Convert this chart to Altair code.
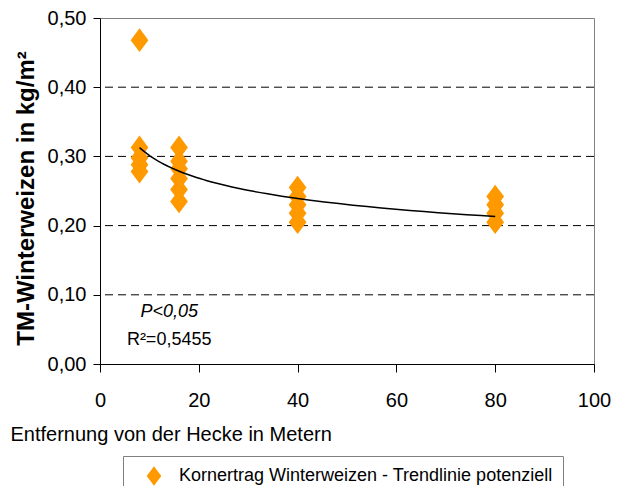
import altair as alt
import pandas as pd

# ---- data ----
dist = [8, 8, 8, 8, 8,
        16, 16, 16, 16, 16, 16,
        40, 40, 40, 40, 40,
        80, 80, 80, 80]
ertrag = [0.468, 0.313, 0.298, 0.288, 0.278,
          0.313, 0.293, 0.282, 0.268, 0.252, 0.235,
          0.255, 0.242, 0.230, 0.218, 0.205,
          0.242, 0.230, 0.218, 0.205]
series_name = "Kornertrag Winterweizen - Trendlinie potenziell"
x_ticks = [0, 20, 40, 60, 80, 100]
y_ticks = [0.0, 0.1, 0.2, 0.3, 0.4, 0.5]
grid_values = [0.1, 0.2, 0.3, 0.4]
annot_text = ["P<0,05", "R²=0,5455"]
annot_x = [14, 14]
annot_y = [0.075, 0.034]

ORANGE = "#FF9900"
DIAMOND = "M0,-1L0.75,0L0,1L-0.75,0Z"
FONT = "Liberation Sans"

df = pd.DataFrame({"dist": dist, "ertrag": ertrag, "series": [series_name] * len(dist)})
grid_df = pd.DataFrame({"g": grid_values})
ann_df = pd.DataFrame({"t": annot_text, "x": annot_x, "y": annot_y, "i": [0, 1]})

xscale = alt.Scale(domain=[0, 100], nice=False, zero=False)
yscale = alt.Scale(domain=[0, 0.5], nice=False)

x_axis = alt.Axis(values=x_ticks, format="d", tickSize=8, tickColor="black",
                  domainColor="black", labelFontSize=20, labelColor="black",
                  labelPadding=18, labelFlush=False, grid=False,
                  title="Entfernung von der Hecke in Metern", titleFontSize=20,
                  titleFontWeight="normal", titleColor="black",
                  titleAnchor="start", titleAlign="left", titleX=-90, titleY=76,
                  titleBaseline="alphabetic")
y_axis = alt.Axis(values=y_ticks, labelExpr="replace(format(datum.value, '.2f'), '.', ',')",
                  tickSize=7, tickColor="black", domainColor="black",
                  labelFontSize=20, labelColor="black", labelPadding=7, grid=False,
                  labelFlush=False,
                  title="TM-Winterweizen in kg/m²", titleFontSize=24,
                  titleFontWeight="bold", titleColor="black",
                  titleX=-62, titleY=180)

grid = alt.Chart(grid_df).mark_rule(color="black", strokeDash=[8, 5], strokeWidth=1).encode(
    y=alt.Y("g:Q", scale=yscale, axis=y_axis)
)

pts = alt.Chart(df).mark_point(filled=True, opacity=1, size=560, shape=DIAMOND,
                               strokeWidth=0).encode(
    x=alt.X("dist:Q", scale=xscale, axis=x_axis),
    y=alt.Y("ertrag:Q", scale=yscale, axis=y_axis),
    color=alt.Color("series:N", scale=alt.Scale(range=[ORANGE]),
                    legend=alt.Legend(title=None, orient="none", legendX=23, legendY=438,
                                      padding=10, strokeColor="#808080",
                                      symbolType=DIAMOND, symbolSize=380,
                                      symbolOffset=11, symbolStrokeWidth=0,
                                      symbolOpacity=1, labelFontSize=18,
                                      labelColor="black", labelOffset=15,
                                      labelLimit=600)),
)

trend = alt.Chart(df).transform_regression("dist", "ertrag", method="pow").mark_line(
    color="black", strokeWidth=1.5).encode(
    x=alt.X("dist:Q", scale=xscale),
    y=alt.Y("ertrag:Q", scale=yscale),
)

ann_p = alt.Chart(ann_df).transform_filter("datum.i == 0").mark_text(
    fontSize=18, fontStyle="italic", color="black", align="center", baseline="middle").encode(
    x=alt.X("x:Q", scale=xscale), y=alt.Y("y:Q", scale=yscale), text="t:N")
ann_r = alt.Chart(ann_df).transform_filter("datum.i == 1").mark_text(
    fontSize=18, color="black", align="center", baseline="middle").encode(
    x=alt.X("x:Q", scale=xscale), y=alt.Y("y:Q", scale=yscale), text="t:N")

chart = alt.layer(grid, pts, trend, ann_p, ann_r).properties(
    width=494, height=346,
    autosize="none",
    padding={"left": 92, "top": 10, "right": 20, "bottom": 122},
).configure(font=FONT).configure_view(stroke="#808080", strokeWidth=1)

chart.save("out.html", embed_options={"renderer": "svg", "actions": False})
